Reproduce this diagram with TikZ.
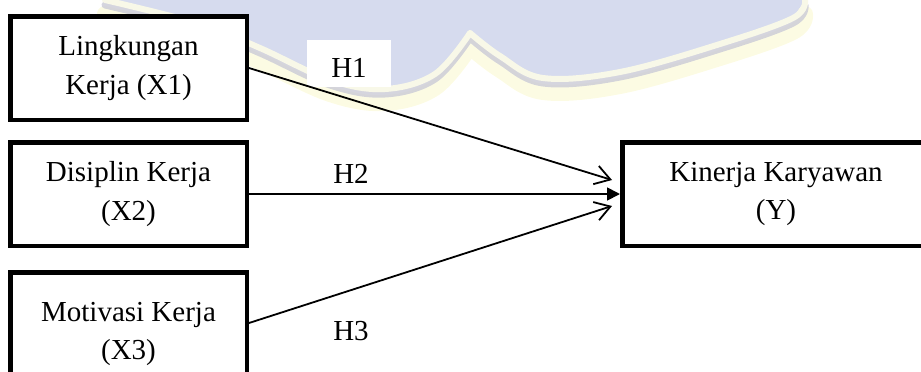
\documentclass[tikz,border=0pt]{standalone}
\usepackage{fontspec}
\setmainfont{Liberation Serif}
\usetikzlibrary{arrows.meta}
\definecolor{wmfill}{RGB}{214,219,238}
\definecolor{wmband}{RGB}{248,248,232}
\definecolor{wmedge}{RGB}{206,206,216}
\definecolor{wmhaze}{RGB}{250,248,200}
\begin{document}
\begin{tikzpicture}[x=1pt,y=-1pt,
  varbox/.style={draw=black, line width=4.5pt, fill=white, align=center,
    font=\fontsize{29}{38.5}\selectfont, inner sep=0pt},
  hlab/.style={font=\fontsize{29}{38.5}\selectfont, inner sep=0pt},
  link/.style={line width=1.8pt},
  openhead/.style={-{Straight Barb[length=15pt,width=19pt,line width=1.8pt]}},
  solidhead/.style={-{Triangle[length=13pt,width=13pt]}},
  wmedgeline/.style={line cap=round, line join=round}]
\useasboundingbox (0,0) rectangle (921,372);
\clip (0,0) rectangle (921,372);

% faint emblem in the background
\def\emblemedge{plot[smooth, tension=0.6] coordinates {(105,0) (200,24) (260,48) (330,80) (385,89) (435,74) (470,33)}
  plot[smooth, tension=0.6] coordinates {(470,33) (500,56) (543,78) (620,72) (720,44) (793,18) (805,0)}}
\fill[wmfill] plot[smooth, tension=0.6] coordinates {(105,0) (200,24) (260,48) (330,80) (385,89) (435,74) (470,33)}
  -- plot[smooth, tension=0.6] coordinates {(470,33) (500,56) (543,78) (620,72) (720,44) (793,18)}
  -- (805,0) -- cycle;
\draw[wmedgeline, wmhaze, line width=16pt, opacity=0.5, yshift=-14pt] \emblemedge;
\draw[wmedgeline, wmedge, line width=7pt, opacity=0.85, yshift=-5pt] \emblemedge;
\draw[wmedgeline, wmband, line width=6pt] \emblemedge;

% variables
\node[varbox, minimum width=236.5pt, minimum height=103.5pt] (x1) at (128.5,68) {Lingkungan\\Kerja (X1)};
\node[varbox, minimum width=236.5pt, minimum height=103.5pt] (x2) at (128.5,194) {Disiplin Kerja\\(X2)};
\node[varbox, minimum width=236.5pt, minimum height=123.5pt] (x3) at (128.5,334) {Motivasi Kerja\\(X3)};
\node[varbox, minimum width=307.5pt, minimum height=103.5pt] (y) at (776,194) {Kinerja Karyawan\\(Y)};

% hypothesis labels
\node[fill=white, minimum width=84pt, minimum height=47pt, inner sep=0pt] (h1bg) at (349,63.5) {};
\node[hlab, anchor=base] (h1) at (349,77) {H1};
\node[hlab, anchor=base] (h2) at (351,183) {H2};
\node[hlab, anchor=base] (h3) at (351,340) {H3};

% paths
\coordinate (t1) at (612,180);
\coordinate (t3) at (612,206);
\draw[link, openhead] (x1.east) -- (t1);
\draw[link, solidhead] (x2.east) -- (y.west);
\draw[link, openhead] ([yshift=11pt]x3.east) -- (t3);
\end{tikzpicture}
\end{document}
